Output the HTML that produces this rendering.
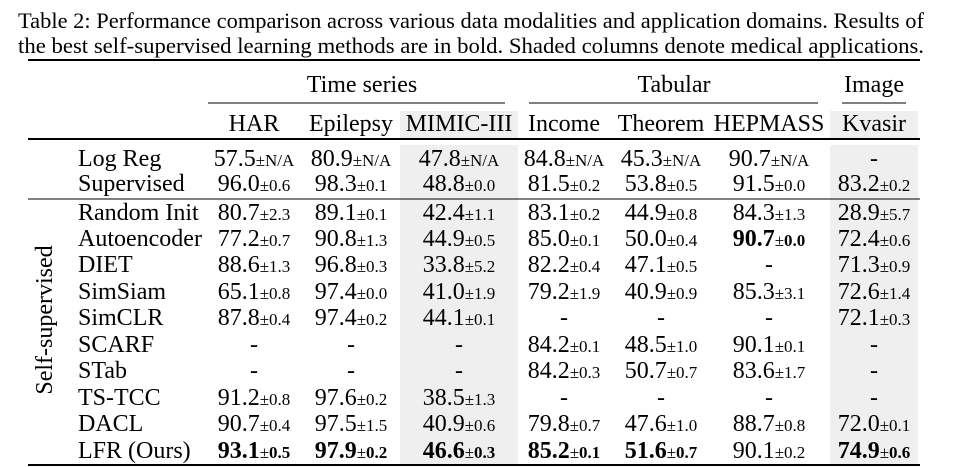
<!DOCTYPE html>
<html><head><meta charset="utf-8"><style>
html,body{margin:0;padding:0;background:#fff;}
svg{display:block;font-family:"Liberation Serif",serif;}
</style></head><body>
<svg id="t" width="953" height="467" viewBox="0 0 953 467">
<text x="18" y="28" font-size="22" textLength="906" lengthAdjust="spacingAndGlyphs">Table 2: Performance comparison across various data modalities and application domains. Results of</text>
<text x="18" y="53" font-size="22" textLength="906" lengthAdjust="spacingAndGlyphs">the best self-supervised learning methods are in bold. Shaded columns denote medical applications.</text>
<rect x="400" y="111" width="118" height="27" fill="#efefef"/>
<rect x="830" y="111" width="88" height="27" fill="#efefef"/>
<rect x="400" y="145" width="118" height="320" fill="#efefef"/>
<rect x="830" y="145" width="88" height="320" fill="#efefef"/>
<line x1="28" x2="920" y1="60" y2="60" stroke="#000" stroke-width="2"/>
<text x="362" y="92" font-size="24" text-anchor="middle">Time series</text>
<text x="674" y="92" font-size="24" text-anchor="middle">Tabular</text>
<text x="874" y="92" font-size="24" text-anchor="middle">Image</text>
<line x1="208" x2="505" y1="103" y2="103" stroke="#000" stroke-width="1"/>
<line x1="529" x2="818" y1="103" y2="103" stroke="#000" stroke-width="1"/>
<line x1="842" x2="906" y1="103" y2="103" stroke="#000" stroke-width="1"/>
<line x1="28" x2="920" y1="139" y2="139" stroke="#000" stroke-width="2"/>
<line x1="28" x2="920" y1="199" y2="199" stroke="#000" stroke-width="1"/>
<line x1="28" x2="920" y1="465" y2="465" stroke="#000" stroke-width="2"/>
<text transform="translate(52,320) rotate(-90)" font-size="24" text-anchor="middle">Self-supervised</text>
</svg>
<script>
const columns=["HAR","Epilepsy","MIMIC-III","Income","Theorem","HEPMASS","Kvasir"];
const methods=["Log Reg","Supervised","Random Init","Autoencoder","DIET","SimSiam","SimCLR","SCARF","STab","TS-TCC","DACL","LFR (Ours)"];
const means=[
["57.5","80.9","47.8","84.8","45.3","90.7","-"],
["96.0","98.3","48.8","81.5","53.8","91.5","83.2"],
["80.7","89.1","42.4","83.1","44.9","84.3","28.9"],
["77.2","90.8","44.9","85.0","50.0","90.7","72.4"],
["88.6","96.8","33.8","82.2","47.1","-","71.3"],
["65.1","97.4","41.0","79.2","40.9","85.3","72.6"],
["87.8","97.4","44.1","-","-","-","72.1"],
["-","-","-","84.2","48.5","90.1","-"],
["-","-","-","84.2","50.7","83.6","-"],
["91.2","97.6","38.5","-","-","-","-"],
["90.7","97.5","40.9","79.8","47.6","88.7","72.0"],
["93.1","97.9","46.6","85.2","51.6","90.1","74.9"]];
const stds=[
["N/A","N/A","N/A","N/A","N/A","N/A",""],
["0.6","0.1","0.0","0.2","0.5","0.0","0.2"],
["2.3","0.1","1.1","0.2","0.8","1.3","5.7"],
["0.7","1.3","0.5","0.1","0.4","0.0","0.6"],
["1.3","0.3","5.2","0.4","0.5","","0.9"],
["0.8","0.0","1.9","1.9","0.9","3.1","1.4"],
["0.4","0.2","0.1","","","","0.3"],
["","","","0.1","1.0","0.1",""],
["","","","0.3","0.7","1.7",""],
["0.8","0.2","1.3","","","",""],
["0.4","1.5","0.6","0.7","1.0","0.8","0.1"],
["0.5","0.2","0.3","0.1","0.7","0.2","0.6"]];
const bold=[[],[],[],[5],[],[],[],[],[],[],[],[0,1,2,3,4,6]];
const colX=[254,351,459,564,661,769,874];
const rowY=[166,191,220,246,272,299,325,352,378,405,431,458];
const NS="http://www.w3.org/2000/svg";
const svg=document.getElementById('t');
function mk(tag,attrs,txt){const e=document.createElementNS(NS,tag);for(const k in attrs)e.setAttribute(k,attrs[k]);if(txt!==undefined)e.textContent=txt;return e;}
columns.forEach((c,i)=>{
  const t=mk('text',{x:colX[i],y:131,'font-size':24,'text-anchor':'middle'},c);
  
  
  svg.appendChild(t);
});
methods.forEach((m,r)=>{
  const t=mk('text',{x:78,y:rowY[r],'font-size':24},m);
  
  
  svg.appendChild(t);
  columns.forEach((c,i)=>{
    const b=bold[r].includes(i);
    const t2=mk('text',{x:colX[i],y:rowY[r],'font-size':24,'text-anchor':'middle','font-weight':b?'bold':'normal'});
    
    
    t2.appendChild(mk('tspan',{},means[r][i]));
    if(stds[r][i]!==''){
      t2.appendChild(mk('tspan',{'font-size':17,'font-weight':'normal'},'±'));
      t2.appendChild(mk('tspan',{'font-size':17},stds[r][i]));
    }
    svg.appendChild(t2);
  });
});
</script>
</body></html>
